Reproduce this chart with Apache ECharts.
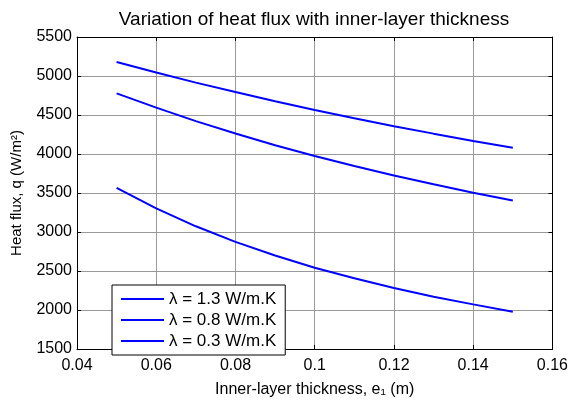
<!DOCTYPE html>
<html>
<head>
<meta charset="utf-8">
<script src="https://cdn.jsdelivr.net/npm/echarts@6/dist/echarts.min.js"></script>
<style>
html,body{margin:0;padding:0;background:#fff;}
#c{width:571px;height:403px;}
</style>
</head>
<body>
<div id="c"></div>
<script>
// Data
var thickness = [0.05, 0.06, 0.07, 0.08, 0.09, 0.10, 0.11, 0.12, 0.13, 0.14, 0.15];
var flux13 = [5180, 5045, 4915, 4795, 4677, 4565, 4459, 4357, 4261, 4168, 4080];
var flux08 = [4778, 4595, 4422, 4263, 4113, 3975, 3846, 3725, 3611, 3504, 3403];
var flux03 = [3565, 3302, 3073, 2874, 2698, 2541, 2406, 2282, 2170, 2072, 1977];
var seriesNames = ['λ = 1.3 W/m.K', 'λ = 0.8 W/m.K', 'λ = 0.3 W/m.K'];
var xTicks = {min: 0.04, max: 0.16, interval: 0.02};
var yTicks = {min: 1500, max: 5500, interval: 500};

var FONT = "'Liberation Sans', Arial, sans-serif";
function pairs(ys){ return thickness.map(function(x,i){ return [x, ys[i]]; }); }

var chart = echarts.init(document.getElementById('c'));
var gridLine = {show: true, lineStyle: {color: '#999999', width: 1}};
var axisLine = {show: true, onZero: false, lineStyle: {color: '#000', width: 1}};
var tick = {show: true, inside: true, length: 4, lineStyle: {color: '#000'}};

function xAxis(pos, main){
  return {
    type: 'value', position: pos, min: xTicks.min, max: xTicks.max, interval: xTicks.interval,
    axisLine: axisLine, axisTick: tick, splitLine: main ? gridLine : {show:false},
    axisLabel: main ? {show: true, margin: 9, color: '#000', fontSize: 16, fontFamily: FONT,
      formatter: function(v){ return String(+v.toFixed(2)); }} : {show:false},
    name: main ? 'Inner-layer thickness, e\u2081 (m)' : '',
    nameLocation: 'middle', nameGap: 33,
    nameTextStyle: {color: '#000', fontSize: 16, fontFamily: FONT}
  };
}
function yAxis(pos, main){
  return {
    type: 'value', position: pos, min: yTicks.min, max: yTicks.max, interval: yTicks.interval,
    axisLine: axisLine, axisTick: tick, splitLine: main ? gridLine : {show:false},
    axisLabel: main ? {show: true, margin: 5, color: '#000', fontSize: 16, fontFamily: FONT,
      formatter: function(v){ return String(v); }} : {show:false},
    name: main ? 'Heat flux, q (W/m\u00B2)' : '',
    nameLocation: 'middle', nameGap: 53,
    nameTextStyle: {color: '#000', fontSize: 15, fontFamily: FONT}
  };
}

var data = [flux13, flux08, flux03];
chart.setOption({
  animation: false,
  backgroundColor: '#fff',
  graphic: [{
    type: 'text', x: 314, y: 10, z: 10,
    style: {text: 'Variation of heat flux with inner-layer thickness', fill: '#000',
      font: '19px ' + FONT, textAlign: 'center', textVerticalAlign: 'top'}
  }],
  grid: {left: 77, right: 18, top: 37, bottom: 43, containLabel: false},
  xAxis: [xAxis('bottom', true), xAxis('top', false)],
  yAxis: [yAxis('left', true), yAxis('right', false)],
  legend: {
    orient: 'vertical', left: 112, top: 285, z: 20,
    data: seriesNames.map(function(n){ return {name: n, icon: 'rect'}; }),
    backgroundColor: '#fff', borderColor: '#000', borderWidth: 1, borderRadius: 0,
    padding: [5, 9, 5, 9], itemWidth: 43, itemHeight: 2, itemGap: 3,
    itemStyle: {color: '#0000ff'},
    textStyle: {color: '#000', fontSize: 17, fontFamily: FONT, lineHeight: 18}
  },
  series: seriesNames.map(function(n, i){
    return {
      name: n, type: 'line', data: pairs(data[i]), symbol: 'none', showSymbol: false,
      lineStyle: {color: '#0000ff', width: 2}, itemStyle: {color: '#0000ff'}
    };
  })
});
</script>
</body>
</html>
